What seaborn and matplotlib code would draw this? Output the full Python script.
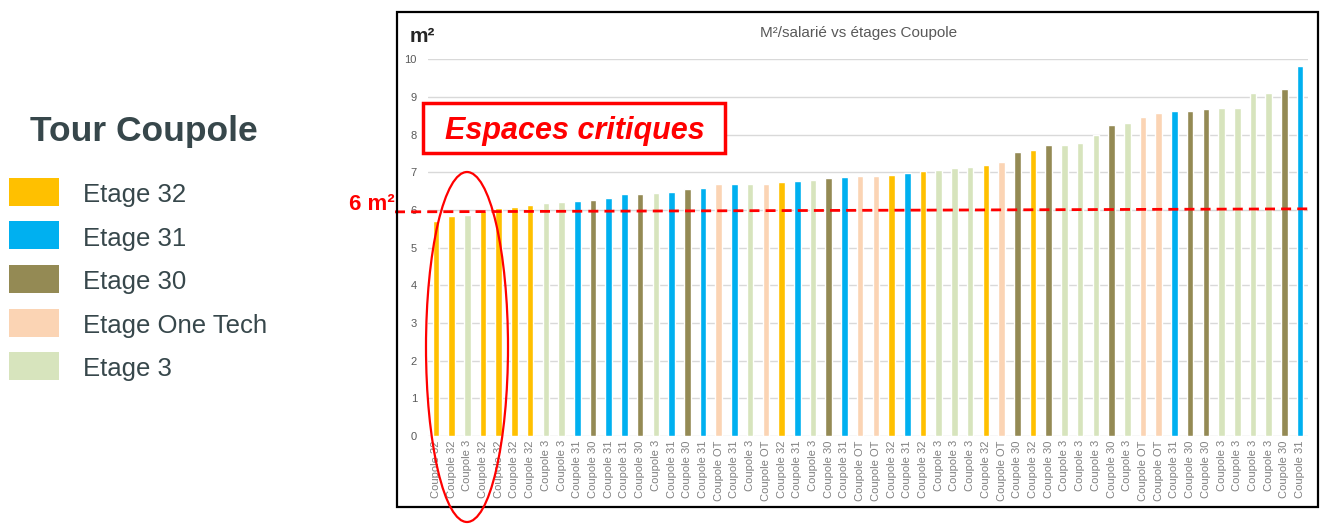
import numpy as np
import pandas as pd
import matplotlib
matplotlib.use("Agg")
import matplotlib.pyplot as plt
from matplotlib.patches import Rectangle, Ellipse
from matplotlib.lines import Line2D
import seaborn as sns

# ---- data ----
floors = ["32", "32", "3", "32", "32", "32", "32", "3", "3", "31",
          "30", "31", "31", "30", "3", "31", "30", "31", "OT", "31",
          "3", "OT", "32", "31", "3", "30", "31",
          "OT", "OT", "32", "31", "32", "3", "3", "3", "32", "OT",
          "30", "32", "30", "3", "3", "3", "30", "3", "OT", "OT",
          "31", "30", "30", "3", "3", "3", "3", "30", "31"]
values = [5.71, 5.85, 5.88, 5.97, 6.06, 6.09, 6.13, 6.19, 6.22, 6.24,
          6.27, 6.32, 6.42, 6.42, 6.44, 6.47, 6.57, 6.59, 6.69, 6.69,
          6.69, 6.69, 6.74, 6.77, 6.80, 6.85, 6.88,
          6.90, 6.90, 6.93, 6.97, 7.03, 7.05, 7.11, 7.15, 7.20, 7.27,
          7.53, 7.58, 7.72, 7.72, 7.79, 8.00, 8.25, 8.30, 8.48, 8.57,
          8.63, 8.63, 8.68, 8.71, 8.71, 9.10, 9.10, 9.21, 9.83]
tick_labels = ["Coupole " + f for f in floors]
legend_keys = ["32", "31", "30", "OT", "3"]
legend_names = ["Etage 32", "Etage 31", "Etage 30", "Etage One Tech", "Etage 3"]
palette = {"32": "#FFC000", "31": "#00B0F0", "30": "#948A54",
           "OT": "#FBD4B4", "3": "#D7E4BD"}
threshold = 6

df = pd.DataFrame({"idx": np.arange(len(values)), "val": values, "floor": floors})

# ---- figure ----
sns.set_theme(style="white")
plt.rcParams["font.family"] = ["Liberation Sans", "DejaVu Sans"]

W, H = 1323, 524
fig = plt.figure(figsize=(W / 100, H / 100), dpi=100)
ax = fig.add_axes([428 / W, 1 - 436 / H, (1308 - 428) / W, (436 - 59.3) / H])

sns.barplot(data=df, x="idx", y="val", hue="floor", palette=palette,
            dodge=False, width=0.42, legend=False, ax=ax, saturation=1)

ax.set_xlim(-0.5, len(values) - 0.5)
ax.set_ylim(0, 10)
ax.set_yticks(range(0, 11))
ax.set_yticklabels([str(i) for i in range(0, 11)], fontsize=8, color="#595959")
ax.set_xticks(range(len(values)))
ax.set_xticklabels(tick_labels, rotation=90, fontsize=8, color="#7F7F7F")
ax.tick_params(axis="both", length=0, pad=3)
ax.tick_params(axis="y", pad=8)
ax.set_xlabel("")
ax.set_ylabel("")
for s in ax.spines.values():
    s.set_visible(False)
ax.grid(axis="y", color="#D9D9D9", linewidth=1)
ax.set_axisbelow(True)

# title and unit
fig.text(859 / W, 1 - 33 / H, "M²/salarié vs étages Coupole", ha="center",
         va="center", fontsize=11, color="#595959")
fig.text(410 / W, 1 - 37 / H, "m²", ha="left", va="center", fontsize=15,
         fontweight="bold", color="#262626")

# threshold line
ax.add_line(Line2D([-2.6, len(values) - 0.5], [threshold - 0.05, threshold + 0.03],
                   color="#FF0000", linewidth=2, dashes=(3.6, 2.2), clip_on=False,
                   zorder=5))
fig.text(372 / W, 1 - 205 / H, "6 m²", ha="center", va="center", fontsize=16,
         fontweight="bold", color="#FF0000")

# frame
fig.add_artist(Rectangle((397 / W, 1 - 507 / H), (1318 - 397) / W, (507 - 12) / H,
                         transform=fig.transFigure, fill=False,
                         edgecolor="black", linewidth=1.6))

# Espaces critiques box
fig.add_artist(Rectangle((423 / W, 1 - 153 / H), (725 - 423) / W, (153 - 103) / H,
                         transform=fig.transFigure, facecolor="white",
                         edgecolor="#FF0000", linewidth=2.5, zorder=6))
fig.text(575 / W, 1 - 131 / H, "Espaces critiques", ha="center", va="center",
         fontsize=22, fontweight="bold", fontstyle="italic", color="#FF0000",
         zorder=7)

# ellipse
fig.add_artist(Ellipse((467 / W, 1 - 347 / H), 82 / W, 350 / H,
                       transform=fig.transFigure, fill=False,
                       edgecolor="#FF0000", linewidth=1.6, zorder=6))

# left legend
fig.text(30 / W, 1 - 132 / H, "Tour Coupole", ha="left", va="center",
         fontsize=25.5, fontweight="bold", color="#37474B")
for i, (k, name) in enumerate(zip(legend_keys, legend_names)):
    yc = 192 + i * 43.5
    fig.add_artist(Rectangle((9 / W, 1 - (yc + 14) / H), 50 / W, 28 / H,
                             transform=fig.transFigure, facecolor=palette[k],
                             edgecolor="none"))
    fig.text(83 / W, 1 - (yc + 3) / H, name, ha="left", va="center",
             fontsize=18.5, color="#37474B")

fig.savefig("out.png", dpi=100)
